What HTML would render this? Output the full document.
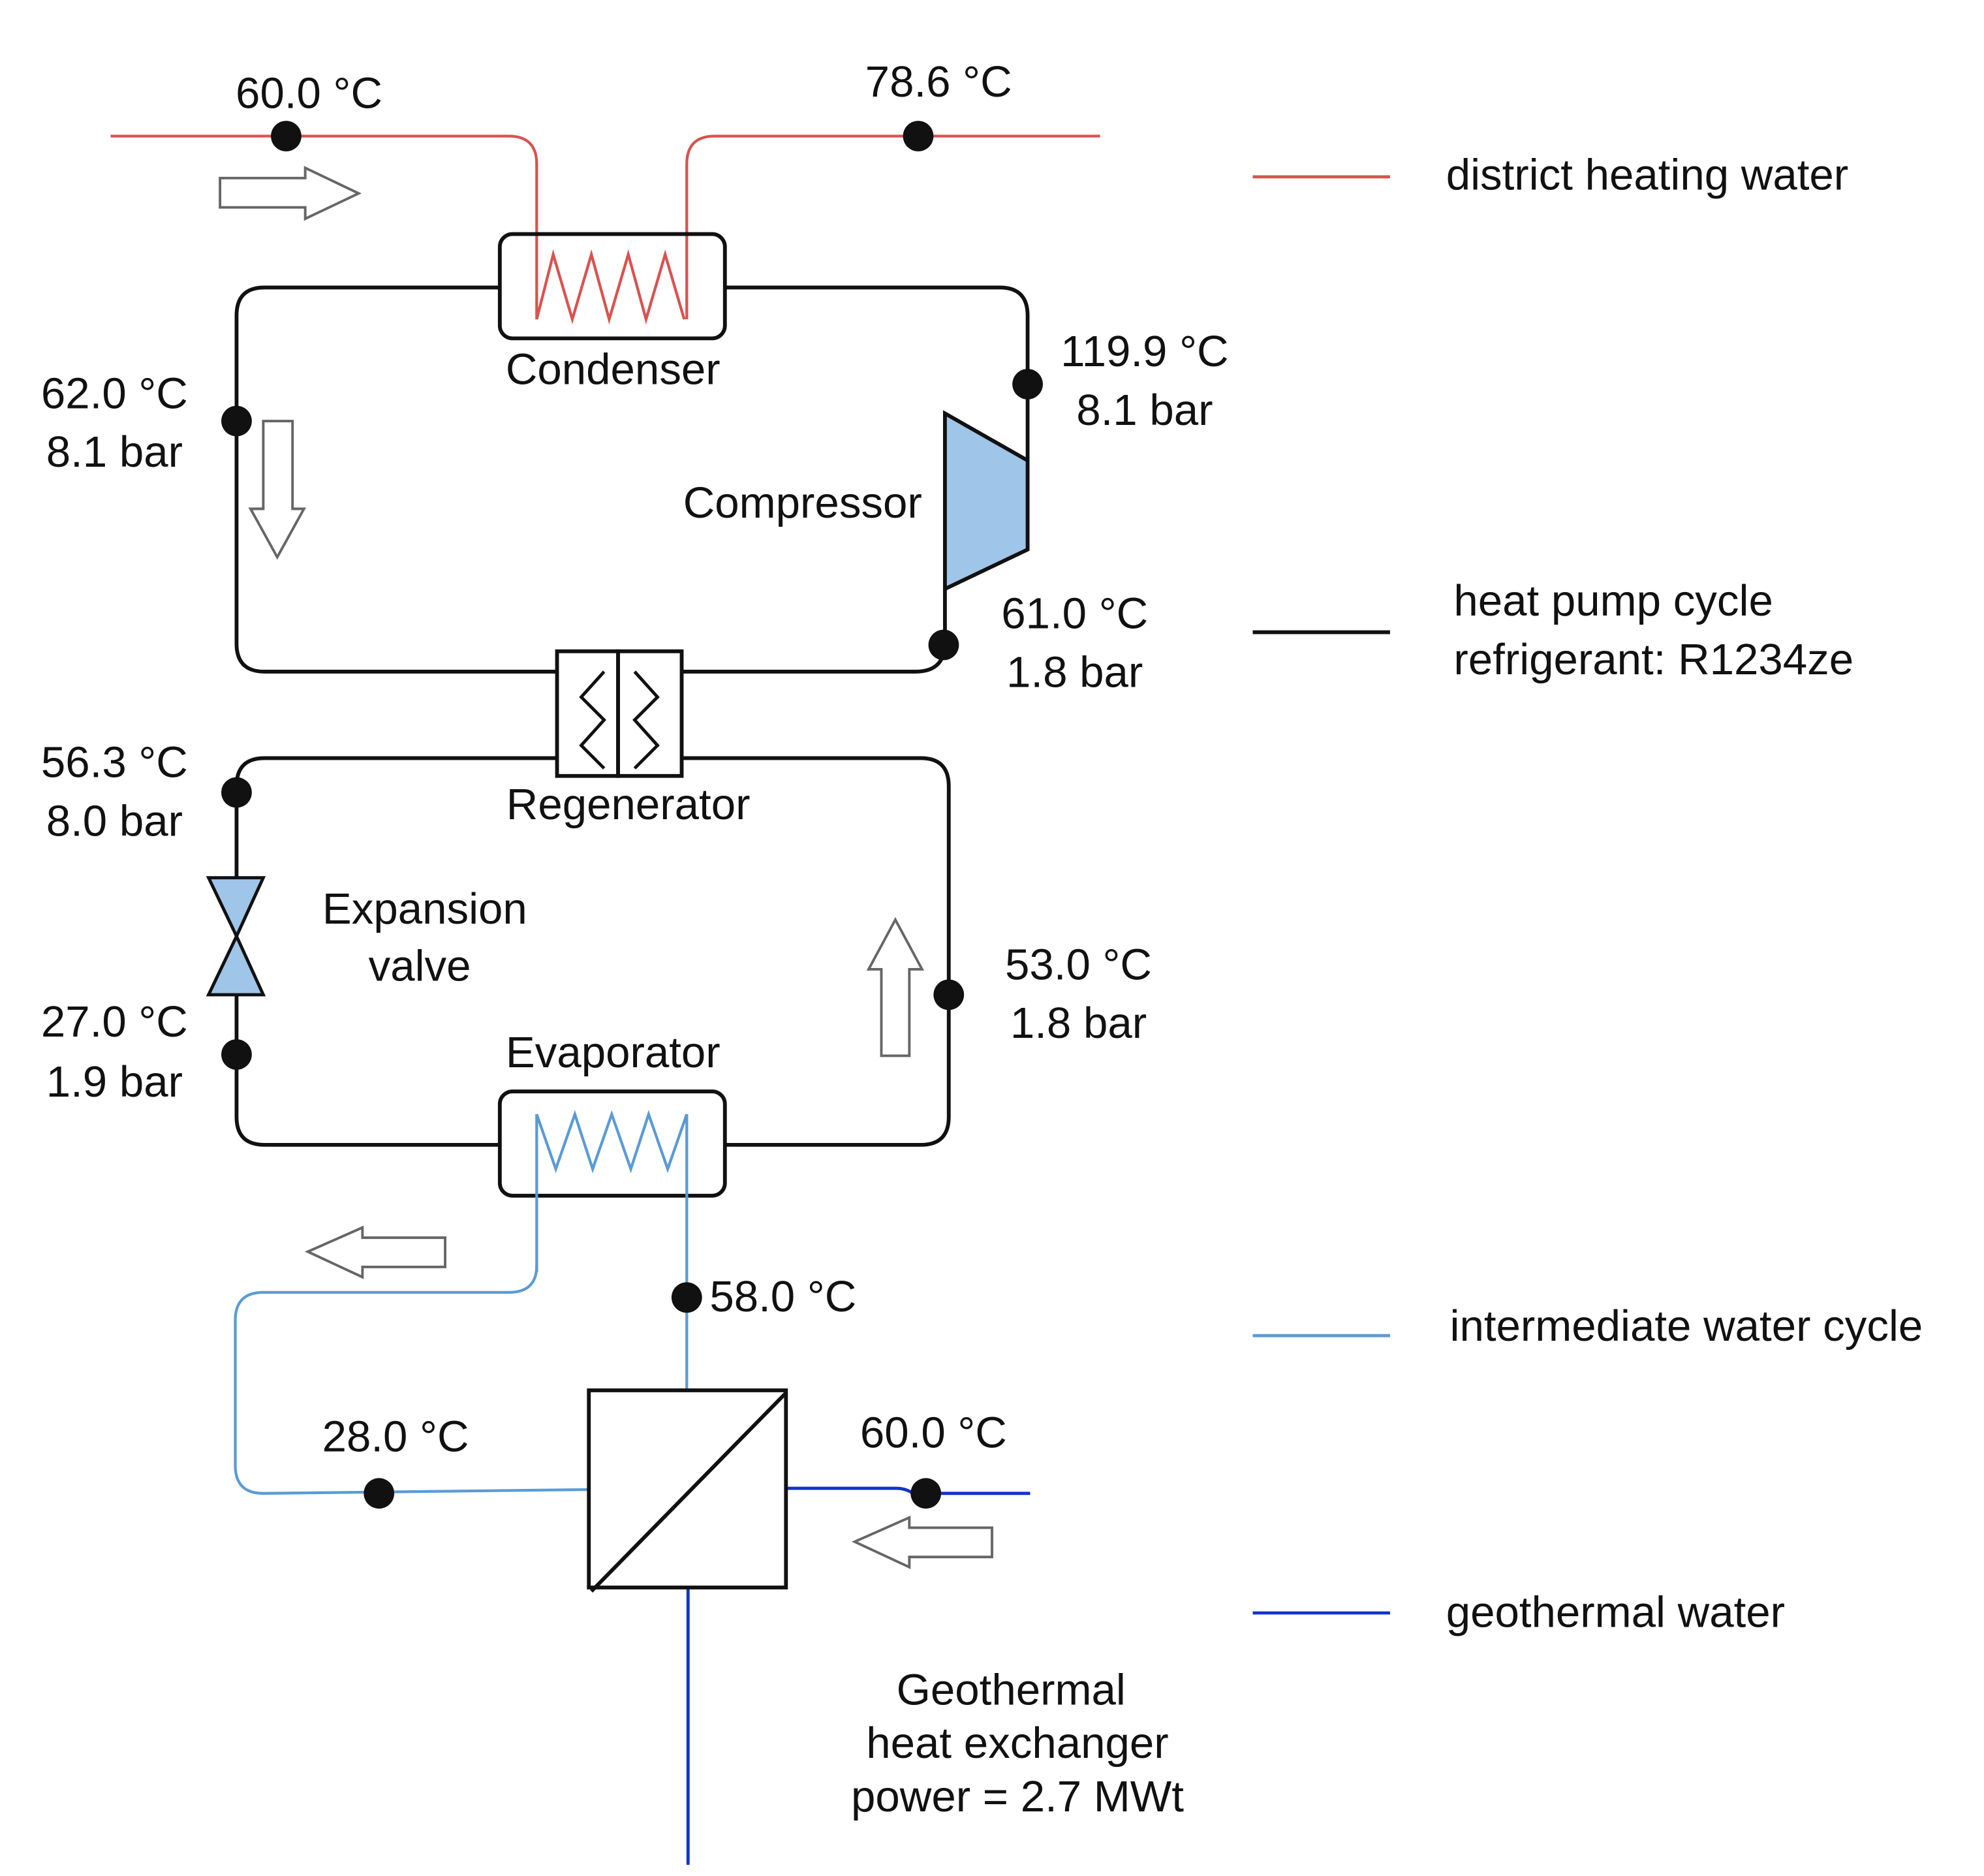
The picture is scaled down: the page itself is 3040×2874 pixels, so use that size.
<!DOCTYPE html>
<html><head><meta charset="utf-8"><style>
html,body{margin:0;padding:0;background:#fff;}
svg{display:block;}
text{font-family:"Liberation Sans",Arial,sans-serif;font-size:34.5px;fill:#111;}
</style></head><body>
<svg width="3040" height="2874" viewBox="0 0 1560 1474.8" preserveAspectRatio="none" xmlns="http://www.w3.org/2000/svg">
<rect width="1560" height="1475" fill="#fff"/>
<g fill="none" stroke="#d9534f" stroke-width="2.2">
<path d="M87 107 H400 Q422 107 422 129 V251 L435 200 L450 251 L465 200 L479 251 L494 200 L508 251 L523 200 L538 251"/>
<path d="M540 251 V129 Q540 107 562 107 H865"/>
</g>
<g fill="none" stroke="#111" stroke-width="3">
<path d="M393 226 H208 Q186 226 186 248 V506 Q186 528 208 528 H438"/>
<path d="M570 226 H786 Q808 226 808 248 V362"/>
<path d="M743 463 V505 Q743 528 720 528 H536"/>
<path d="M438 596 H208 Q186 596 186 618 V690"/>
<path d="M186 782 V878 Q186 900 208 900 H393"/>
<path d="M536 596 H724 Q746 596 746 618 V878 Q746 900 724 900 H570"/>
<rect x="393" y="184" width="177" height="82" rx="10"/>
<rect x="393" y="858" width="177" height="82" rx="10"/>
<rect x="438" y="512" width="48" height="98"/>
<rect x="486" y="512" width="50" height="98"/>
<path d="M475 528 L457 548 L475 566 L457 586 L475 604" stroke-width="2.5"/>
<path d="M499 528 L517 548 L499 566 L517 586 L499 604" stroke-width="2.5"/>
</g>
<polygon points="743,325 808,362 808,432 743,463" fill="#9fc5e8" stroke="#111" stroke-width="3"/>
<polygon points="164,690 207,690 186,736" fill="#9fc5e8" stroke="#111" stroke-width="2.5"/>
<polygon points="164,782 207,782 186,736" fill="#9fc5e8" stroke="#111" stroke-width="2.5"/>
<g fill="none" stroke="#5b9bd5" stroke-width="2.2">
<path d="M422 1000 V876 L437 919 L452 876 L466 919 L481 876 L496 919 L510 876 L525 919 L540 876 V1093"/>
<path d="M422 995 Q422 1016 400 1016 H207 Q185 1016 185 1038 V1152 Q185 1174 207 1174 L463 1171"/>
</g>
<g fill="none" stroke="#1133cc" stroke-width="2.5">
<path d="M618 1170 H705 Q712 1170 718 1174 H810"/>
<path d="M541 1248 V1466"/>
</g>
<rect x="463" y="1093" width="155" height="155" fill="none" stroke="#111" stroke-width="3"/>
<path d="M465 1251 L618 1095" stroke="#111" stroke-width="3"/>
<g fill="#111">
<circle cx="225" cy="107" r="12"/><circle cx="722" cy="107" r="12"/>
<circle cx="808" cy="302" r="12"/><circle cx="186" cy="331" r="12"/>
<circle cx="742" cy="507" r="12"/><circle cx="186" cy="623" r="12"/>
<circle cx="186" cy="829" r="12"/><circle cx="746" cy="782" r="12"/>
<circle cx="540" cy="1020" r="12"/><circle cx="298" cy="1174" r="12"/>
<circle cx="728" cy="1174" r="12"/>
</g>
<g fill="#fff" stroke="#666" stroke-width="2">
<polygon points="173,140 240,140 240,132 282,152 240,172 240,163 173,163"/>
<polygon points="207,331 230,331 230,400 239,400 218,438 197,400 207,400"/>
<polygon points="693,830 715,830 715,762 725,762 704,723 683,762 693,762"/>
<polygon points="350,973 285,973 285,965 242,984 285,1004 285,996 350,996"/>
<polygon points="780,1201 715,1201 715,1193 672,1212 715,1232 715,1224 780,1224"/>
</g>
<line x1="985" y1="139" x2="1093" y2="139" stroke="#d9534f" stroke-width="2.5"/>
<line x1="985" y1="497" x2="1093" y2="497" stroke="#111" stroke-width="3"/>
<line x1="985" y1="1050" x2="1093" y2="1050" stroke="#5b9bd5" stroke-width="2.5"/>
<line x1="985" y1="1268" x2="1093" y2="1268" stroke="#1133cc" stroke-width="2.5"/>
<text x="1137" y="149">district heating water</text>
<text x="1143" y="484">heat pump cycle</text>
<text x="1143" y="530">refrigerant: R1234ze</text>
<text x="1140" y="1054">intermediate water cycle</text>
<text x="1137" y="1279">geothermal water</text>
<g text-anchor="middle">
<text x="243" y="85">60.0 °C</text>
<text x="738" y="76">78.6 °C</text>
<text x="482" y="302">Condenser</text>
<text x="900" y="288">119.9 °C</text>
<text x="900" y="334">8.1 bar</text>
<text x="90" y="321">62.0 °C</text>
<text x="90" y="367">8.1 bar</text>
<text x="845" y="494">61.0 °C</text>
<text x="845" y="540">1.8 bar</text>
<text x="90" y="611">56.3 °C</text>
<text x="90" y="657">8.0 bar</text>
<text x="494" y="644">Regenerator</text>
<text x="334" y="726">Expansion</text>
<text x="330" y="771">valve</text>
<text x="90" y="815">27.0 °C</text>
<text x="90" y="862">1.9 bar</text>
<text x="482" y="839">Evaporator</text>
<text x="848" y="770">53.0 °C</text>
<text x="848" y="816">1.8 bar</text>
<text x="311" y="1141">28.0 °C</text>
<text x="734" y="1138">60.0 °C</text>
<text x="795" y="1340">Geothermal</text>
<text x="800" y="1382">heat exchanger</text>
<text x="800" y="1424">power = 2.7 MWt</text>
</g>
<text x="725" y="407" text-anchor="end">Compressor</text>
<text x="558" y="1031">58.0 °C</text>
</svg>
</body></html>
